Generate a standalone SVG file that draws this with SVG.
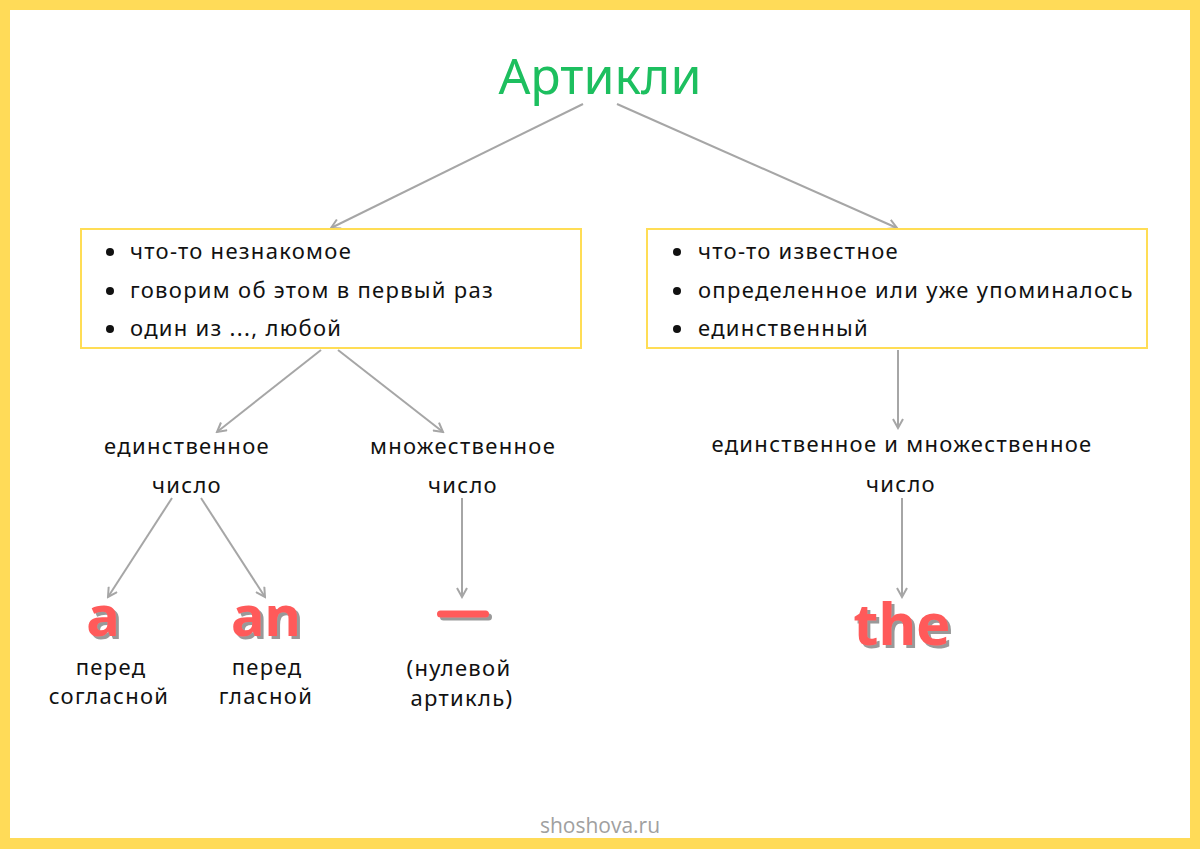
<svg xmlns="http://www.w3.org/2000/svg" width="1200" height="849" viewBox="0 0 1200 849">
<defs>
<style>
.t{font-family:"Noto Sans","DejaVu Sans",sans-serif;font-size:22px;letter-spacing:1.3px;fill:#111;}
.c{text-anchor:middle;}
.box{fill:#fff;stroke:#FFDD55;stroke-width:2;}
.ln{stroke:#A6A6A6;stroke-width:2;fill:none;marker-end:url(#ah);}
.big{font-family:"Noto Sans","DejaVu Sans",sans-serif;font-size:56px;text-anchor:middle;font-weight:bold;fill:#FF5A5A;filter:url(#sh);}
</style>
<filter id="sh" x="-20%" y="-20%" width="140%" height="140%">
<feDropShadow dx="3" dy="3" stdDeviation="0.6" flood-color="#999" flood-opacity="1"/>
</filter>
<filter id="shu" filterUnits="userSpaceOnUse" x="430" y="600" width="70" height="30">
<feDropShadow dx="3" dy="3" stdDeviation="0.6" flood-color="#999" flood-opacity="1"/>
</filter>
<marker id="ah" viewBox="0 0 12 12" refX="10" refY="6" markerWidth="12" markerHeight="12" orient="auto" markerUnits="userSpaceOnUse">
<path d="M1,1 L10,6 L1,11" fill="none" stroke="#A6A6A6" stroke-width="2"/>
</marker>
</defs>
<rect x="0" y="0" width="1200" height="849" fill="#FFDB58"/>
<rect x="10" y="10" width="1180" height="828" fill="#fff"/>

<g id="title">
<text x="600" y="94" style="font-family:'Noto Sans','Open Sans',sans-serif;font-size:50px;fill:#1DBF5F;text-anchor:middle">Артикли</text>
</g>

<g id="connectors">
<line class="ln" x1="583" y1="104" x2="331" y2="228"/>
<line class="ln" x1="617" y1="104" x2="897" y2="228"/>
<line class="ln" x1="321" y1="350" x2="217" y2="432"/>
<line class="ln" x1="338" y1="350" x2="443" y2="432"/>
<line class="ln" x1="898" y1="350" x2="898" y2="428"/>
<line class="ln" x1="172" y1="498" x2="108" y2="597"/>
<line class="ln" x1="201" y1="498" x2="265" y2="597"/>
<line class="ln" x1="462" y1="498" x2="462" y2="597"/>
<line class="ln" x1="902" y1="498" x2="902" y2="597"/>
</g>

<g id="box-left">
<rect class="box" x="81" y="229" width="500" height="119"/>
<circle cx="110" cy="252" r="4" fill="#111"/>
<circle cx="110" cy="291" r="4" fill="#111"/>
<circle cx="110" cy="329" r="4" fill="#111"/>
<text class="t" x="130" y="259">что-то незнакомое</text>
<text class="t" x="130" y="298">говорим об этом в первый раз</text>
<text class="t" x="130" y="336">один из ..., любой</text>
</g>

<g id="box-right">
<rect class="box" x="647" y="229" width="500" height="119"/>
<circle cx="677" cy="252" r="4" fill="#111"/>
<circle cx="677" cy="291" r="4" fill="#111"/>
<circle cx="677" cy="329" r="4" fill="#111"/>
<text class="t" x="698" y="259">что-то известное</text>
<text class="t" x="698" y="298">определенное или уже упоминалось</text>
<text class="t" x="698" y="336">единственный</text>
</g>

<g id="singular">
<text class="t c" x="187" y="454">единственное</text>
<text class="t c" x="187" y="493">число</text>
</g>
<g id="plural">
<text class="t c" x="463" y="454">множественное</text>
<text class="t c" x="463" y="493">число</text>
</g>
<g id="both">
<text class="t c" x="902" y="452">единственное и множественное</text>
<text class="t c" x="901" y="492">число</text>
</g>

<g id="art-a">
<text class="big" x="103" y="636">a</text>
<text class="t c" x="111" y="675">перед</text>
<text class="t c" x="109" y="704">согласной</text>
</g>
<g id="art-an">
<text class="big" x="266" y="636">an</text>
<text class="t c" x="267" y="675">перед</text>
<text class="t c" x="266" y="704">гласной</text>
</g>
<g id="art-zero">
<rect x="437" y="610.5" width="52" height="7" rx="3.5" fill="#FF5A5A" filter="url(#shu)"/>
<text class="t c" x="459" y="676">(нулевой</text>
<text class="t c" x="462" y="706">артикль)</text>
</g>
<g id="art-the">
<text class="big" x="902" y="645" style="font-size:58px">the</text>
</g>

<g id="footer">
<text x="600" y="833" style="font-family:'Open Sans','Noto Sans',sans-serif;font-size:21px;fill:#A0A0A0;text-anchor:middle">shoshova.ru</text>
</g>
</svg>
